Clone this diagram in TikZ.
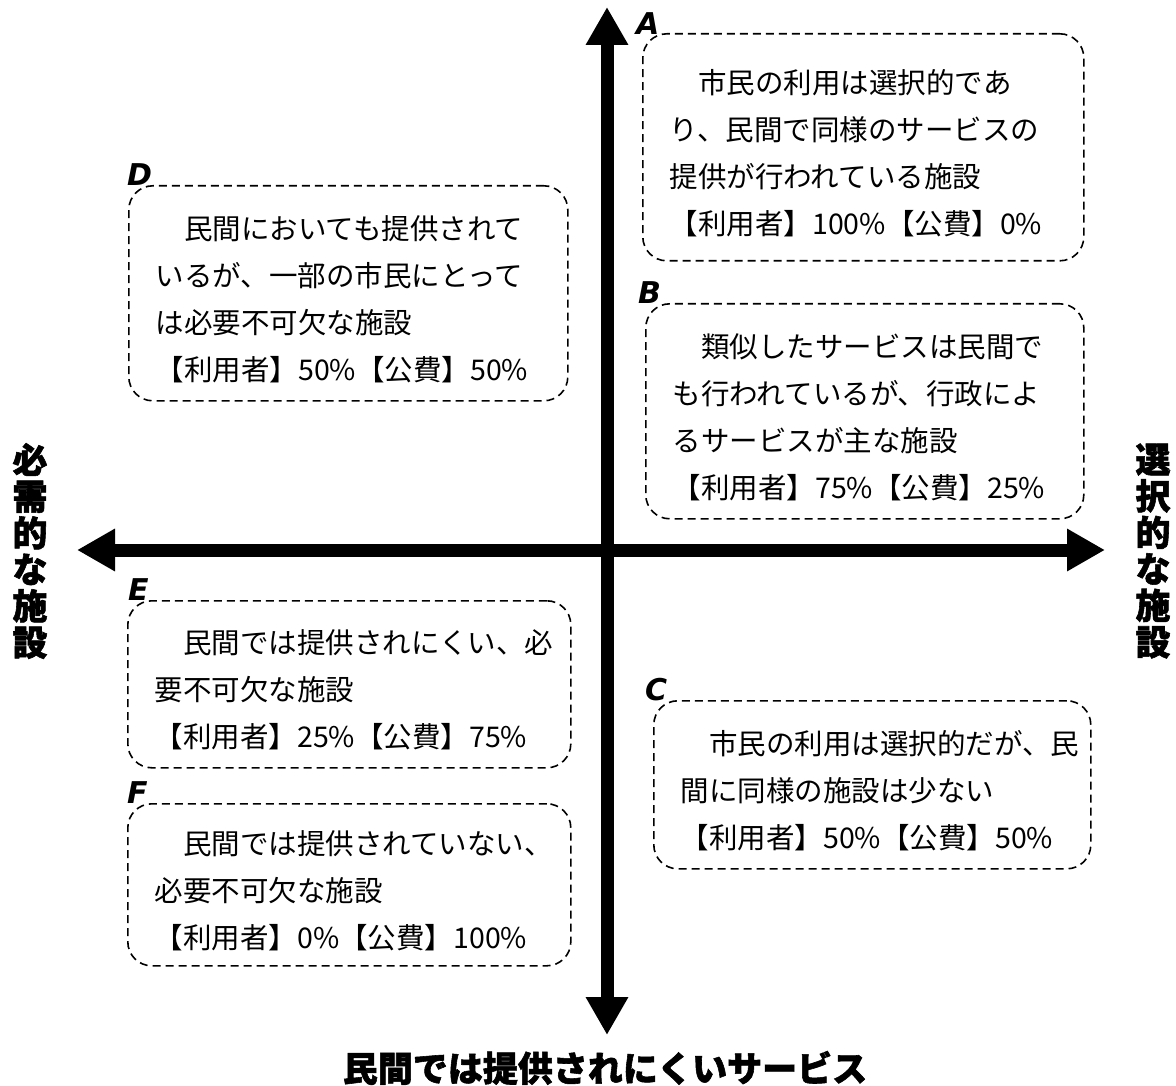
\documentclass[tikz,border=0pt]{standalone}
\usepackage{fontspec}
\setmainfont{Noto Sans CJK JP}
\newfontfamily\tagfont{DejaVu Sans}
\newfontfamily\axfont[BoldFeatures={FakeBold=1.6}]{Noto Sans CJK JP}
\usetikzlibrary{positioning,arrows.meta}

\begin{document}
\begin{tikzpicture}[x=1pt,y=-1pt,
    axis/.style={line width=13pt,{Triangle[length=38pt,width=40pt]}-{Triangle[length=38pt,width=40pt]}},
    quad/.style={draw,line width=1.6pt,dash pattern=on 8pt off 5pt,rounded corners=24pt,
      anchor=north west,align=left,inner xsep=27pt,inner ysep=0pt,
      font=\fontsize{28.5pt}{47pt}\selectfont,execute at begin node={\rule{0pt}{35pt}}},
    tag/.style={inner sep=0pt,font=\tagfont\bfseries\itshape\fontsize{30pt}{30pt}\selectfont},
    axlabel/.style={inner sep=0pt,align=center,font=\axfont\bfseries\fontsize{35pt}{36.5pt}\selectfont}]
    \useasboundingbox (0,0) rectangle (1176,1086);

    \coordinate (top) at (607,7);
    \coordinate (bottom) at (607,1035);
    \coordinate (left) at (77,550);
    \coordinate (right) at (1105,550);
    \draw[axis] (left) -- (right);
    \draw[axis] (top) -- (bottom);

    \node[quad,text width=387pt,minimum height=227pt] (boxA) at (642,33)
        {　市民の利用は選択的であ\\り、民間で同様のサービスの\\提供が行われている施設\\【利用者】100\%【公費】0\%};
    \node[quad,text width=384pt,minimum height=215pt] (boxB) at (645,303)
        {　類似したサービスは民間で\\も行われているが、行政によ\\るサービスが主な施設\\【利用者】75\%【公費】25\%};
    \node[quad,text width=383pt,minimum height=168pt] (boxC) at (653,700)
        {　市民の利用は選択的だが、民\\間に同様の施設は少ない\\【利用者】50\%【公費】50\%};
    \node[quad,text width=385pt,minimum height=215pt] (boxD) at (128,185)
        {　民間においても提供されて\\いるが、一部の市民にとって\\は必要不可欠な施設\\【利用者】50\%【公費】50\%};
    \node[quad,text width=389pt,minimum height=167pt] (boxE) at (127,600)
        {　民間では提供されにくい、必\\要不可欠な施設\\【利用者】25\%【公費】75\%};
    \node[quad,text width=389pt,minimum height=162pt] (boxF) at (127,803)
        {　民間では提供されていない、\\必要不可欠な施設\\【利用者】0\%【公費】100\%};

    \node[tag,above right=-2pt and -6pt of boxA.north west] (tagA) {A};
    \node[tag,above right=-1pt and -7pt of boxB.north west] (tagB) {B};
    \node[tag,above right=-1pt and -8pt of boxC.north west] (tagC) {C};
    \node[tag,above right=-1pt and -1pt of boxD.north west] (tagD) {D};
    \node[tag,above right=-1pt and 1pt of boxE.north west] (tagE) {E};
    \node[tag,above right=-1pt and 0pt of boxF.north west] (tagF) {F};

    \node[axlabel] (need) at (30,551) {必\\需\\的\\な\\施\\設};
    \node[axlabel] (choice) at (1153,551) {選\\択\\的\\な\\施\\設};
    \node[axlabel] (private) at (605,1068) {民間では提供されにくいサービス};
\end{tikzpicture}
\end{document}
